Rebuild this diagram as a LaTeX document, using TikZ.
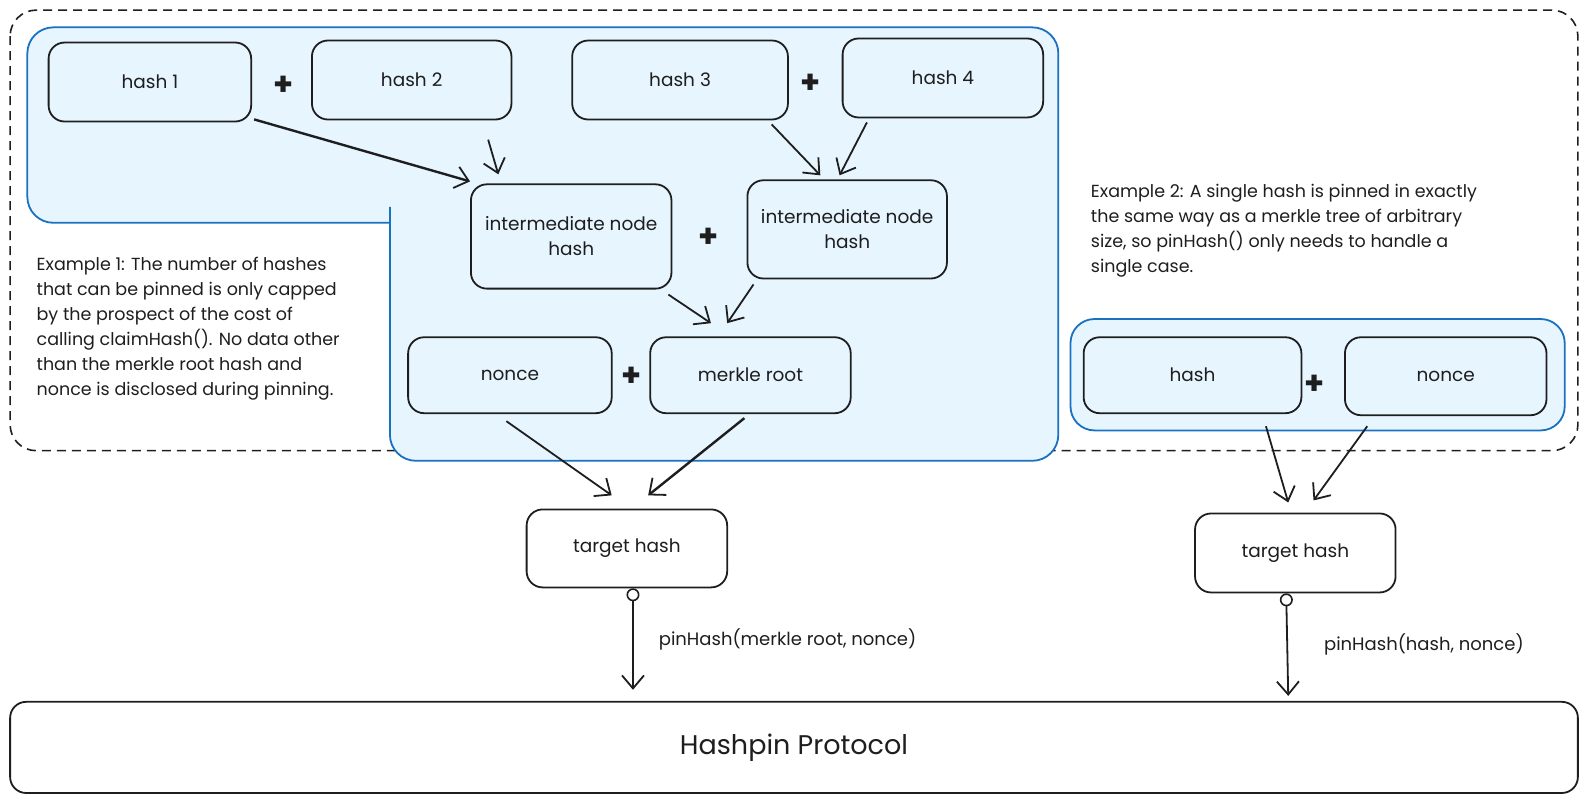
\documentclass[tikz,border=0pt]{standalone}
\usepackage{fontspec}
\setmainfont{Poppins}
\usetikzlibrary{arrows.meta,calc}
\definecolor{ink}{HTML}{1E1E1E}
\definecolor{blueline}{HTML}{1971C2}
\definecolor{bluefill}{HTML}{E7F5FF}
\begin{document}
\begin{tikzpicture}[x=1.0128pt,y=-1.0128pt,
  wh/.style 2 args={minimum width=#1*1.0128pt,minimum height=#2*1.0128pt},
  box/.style={draw=ink,line width=1.8pt,rounded corners=16pt,fill=bluefill,align=center,
    text=ink,inner sep=0pt,font=\fontsize{18.5}{25}\selectfont},
  whitebox/.style={box,fill=white},
  plus/.style={text=ink,font=\fontsize{32}{32}\selectfont\bfseries,inner sep=0pt},
  note/.style={text=ink,align=left,anchor=north west,inner sep=0pt,font=\fontsize{17.5}{25}\selectfont},
  arr/.style={draw=ink,line width=1.8pt,-{Straight Barb[length=13pt,width=22pt,line width=1.8pt]}},
  pinarr/.style={draw=ink,line width=1.8pt,{Circle[open,fill=white,length=13pt,width=13pt,line width=1.6pt]}-{Straight Barb[length=13pt,width=22pt,line width=1.8pt]}},
  lbl/.style={text=ink,font=\fontsize{18}{20}\selectfont,inner sep=0pt,anchor=west}
]
\useasboundingbox (0,0) rectangle (1568,792);
% outer dashed frame
\draw[ink,line width=1.6pt,dash pattern=on 9pt off 6pt,rounded corners=26pt] (10,10) rectangle (1558,445);
% blue region example 1
\draw[blueline,fill=bluefill,line width=1.8pt,rounded corners=26pt]
  (385,220) -- (27,220) -- (27,27) -- (1045,27) -- (1045,455) -- (385,455) -- (385,230) [sharp corners] -- (385,220);
% blue region example 2
\draw[blueline,fill=bluefill,line width=1.8pt,rounded corners=24pt] (1057,315) rectangle (1545,425);

% nodes
\node[box,wh={200}{78}] (h1) at (148,81) {hash 1};
\node[box,wh={197}{78}] (h2) at (406.5,79) {hash 2};
\node[box,wh={213}{78}] (h3) at (671.5,79) {hash 3};
\node[box,wh={198}{78}] (h4) at (931,77) {hash 4};
\node[box,wh={198}{103}] (i1) at (564,233.5) {intermediate node\\hash};
\node[box,wh={197}{97}] (i2) at (836.5,226.5) {intermediate node\\hash};
\node[box,wh={201}{75}] (n1) at (503.5,370.5) {nonce};
\node[box,wh={198}{75}] (mr) at (741,370.5) {merkle root};
\node[whitebox,wh={198}{77}] (t1) at (619,541.5) {target hash};
\node[box,wh={215}{75}] (rh) at (1177.5,370.5) {hash};
\node[box,wh={199}{77}] (rn) at (1427.5,371.5) {nonce};
\node[whitebox,wh={198}{78}] (t2) at (1279,546) {target hash};
\node[whitebox,wh={1548}{90},font=\fontsize{27}{27}\selectfont] (P) at (784,738) {Hashpin Protocol};

% plus signs
\node[plus] (p1) at (280,85) {+};
\node[plus] (p2) at (800,83) {+};
\node[plus] (p3) at (700,235) {+};
\node[plus] (p4) at (624,372) {+};
\node[plus] (p5) at (1298,380) {+};

% notes
\node[note] (e1) at (36,254) {Example 1: The number of hashes\\
that can be pinned is only capped\\
by the prospect of the cost of\\
calling claimHash(). No data other\\
than the merkle root hash and\\
nonce is disclosed during pinning.};
\node[note] (e2) at (1077,182) {Example 2: A single hash is pinned in exactly\\
the same way as a merkle tree of arbitrary\\
size, so pinHash() only needs to handle a\\
single case.};

% arrows
\draw[arr,line width=2.4pt] ($(h1.south east)+(2,-3)$) -- ($(i1.north west)+(0,-2)$);
\draw[arr] ($(h2.south)+(75.5,19)$) -- ($(i1.north)+(-72,-9)$);
\draw[arr] ($(h3.south)+(90.5,4)$) -- ($(i2.north)+(-26.5,-4)$);
\draw[arr] ($(h4.south)+(-75,4)$) -- ($(i2.north)+(-7.5,-4)$);
\draw[arr] ($(i1.south)+(96,5)$) -- ($(mr.north)+(-39,-13)$);
\draw[arr] ($(i2.south)+(-92.5,5)$) -- ($(mr.north)+(-23,-13)$);
\draw[arr] ($(n1.south)+(-3.5,7)$) -- ($(t1.north)+(-15,-13)$);
\draw[arr,line width=2.4pt] ($(mr.south)+(-6,4)$) -- ($(t1.north)+(21,-13)$);
\draw[arr] ($(rh.south)+(72.5,12)$) -- ($(t2.north)+(-7,-10)$);
\draw[arr] ($(rn.south)+(-77.5,10)$) -- ($(t2.north)+(18,-12)$);
\draw[pinarr] ($(t1.south)+(6,0)$) -- node[lbl,xshift=25pt] (l1) {pinHash(merkle root, nonce)} ($(P.north)+(-159,-11)$);
\draw[pinarr] ($(t2.south)+(-9,0)$) -- node[lbl,xshift=36pt] (l2) {pinHash(hash, nonce)} ($(P.north)+(488,-5)$);
\end{tikzpicture}
\end{document}
